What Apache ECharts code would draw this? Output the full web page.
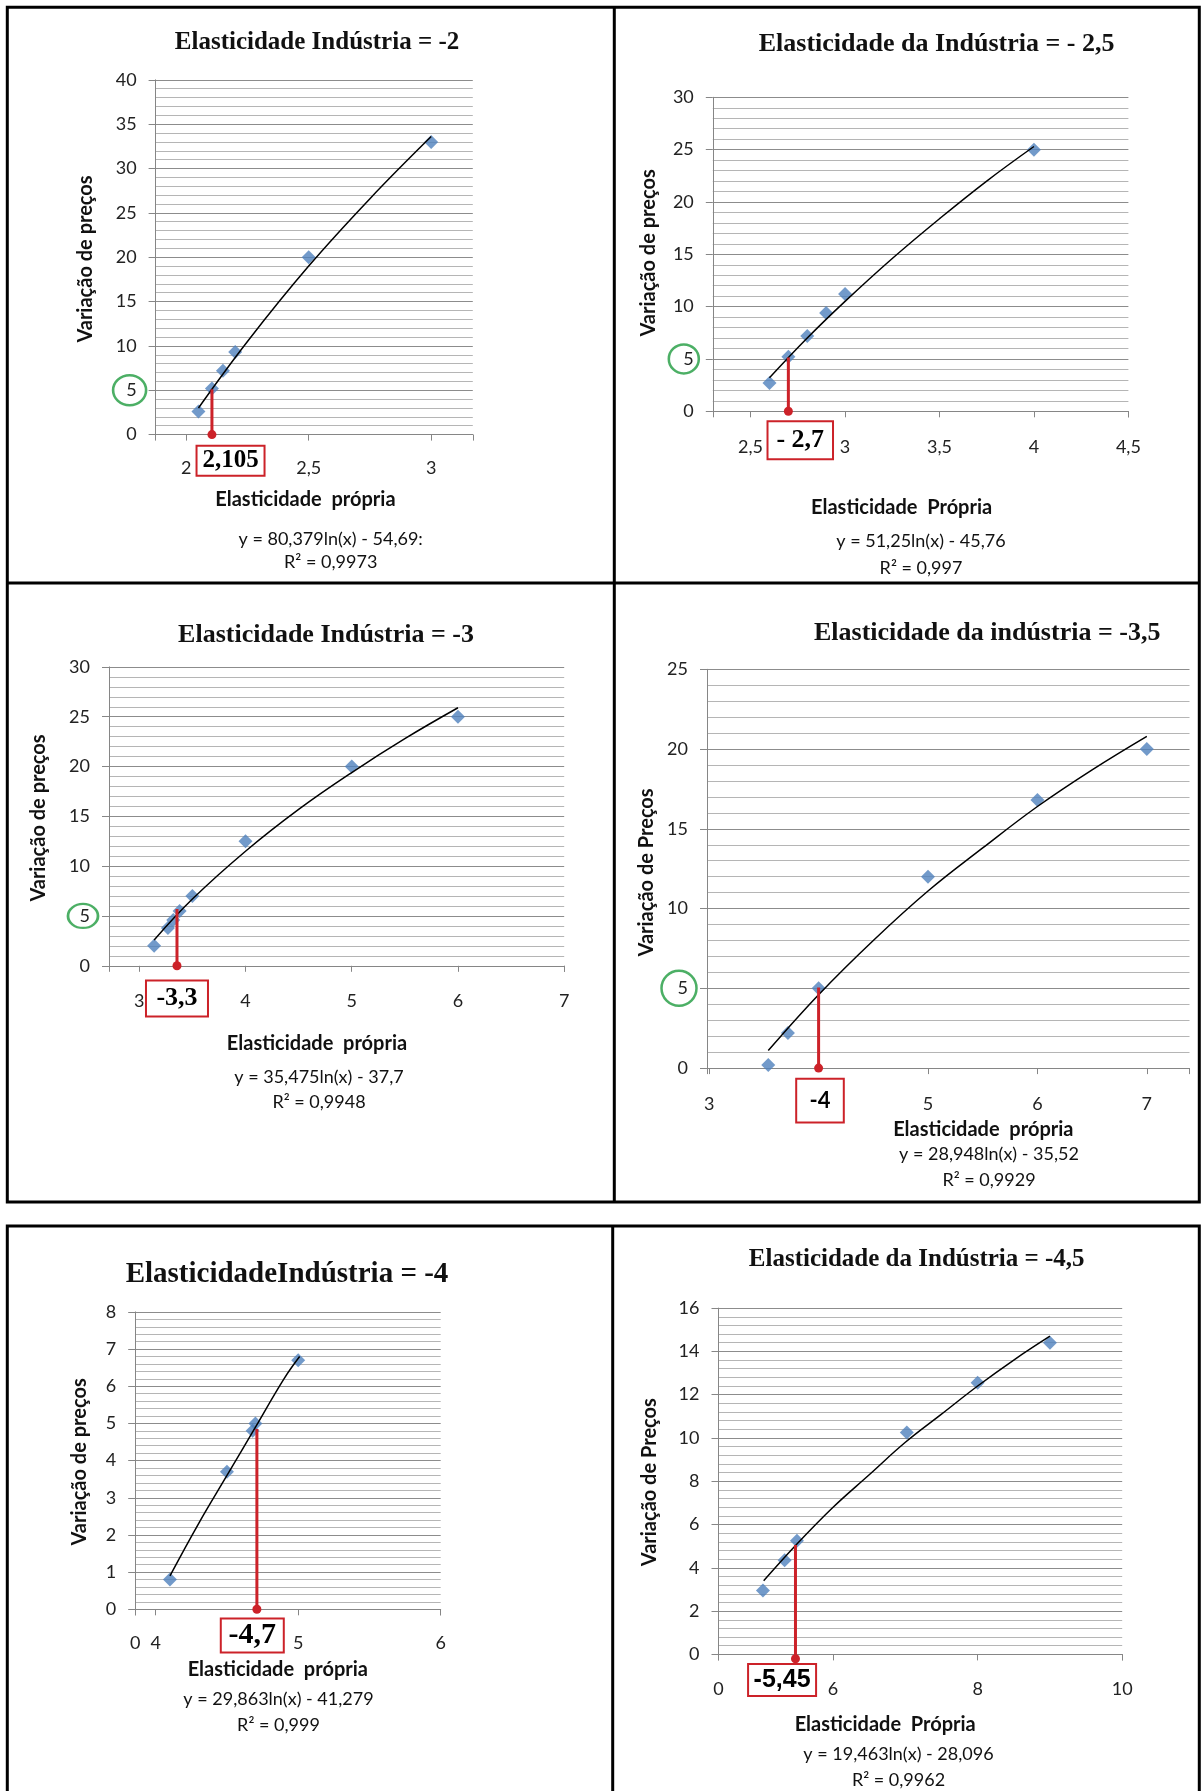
<!DOCTYPE html>
<html>
<head>
<meta charset="utf-8">
<title>Elasticidade</title>
<script src="https://cdn.jsdelivr.net/npm/echarts@6/dist/echarts.min.js"></script>
<style>
  html, body { margin: 0; padding: 0; background: #fff; }
  #chart { width: 1201px; height: 1791px; }
</style>
</head>
<body>
<div id="chart"></div>
<script>
// textos de cada painel
const titulos = [
  'Elasticidade Indústria = -2',
  'Elasticidade da Indústria = - 2,5',
  'Elasticidade Indústria = -3',
  'Elasticidade da indústria = -3,5',
  'ElasticidadeIndústria = -4',
  'Elasticidade da Indústria = -4,5'
]
const nomesY = ['Variação de preços', 'Variação de preços', 'Variação de preços', 'Variação de Preços', 'Variação de preços', 'Variação de Preços']
const nomesX = ['Elasticidade  própria', 'Elasticidade  Própria', 'Elasticidade  própria', 'Elasticidade  própria', 'Elasticidade  própria', 'Elasticidade  Própria']
const equacoes = [
  'y = 80,379ln(x) - 54,69:',
  'y = 51,25ln(x) - 45,76',
  'y = 35,475ln(x) - 37,7',
  'y = 28,948ln(x) - 35,52',
  'y = 29,863ln(x) - 41,279',
  'y = 19,463ln(x) - 28,096'
]
const r2 = ['R² = 0,9973', 'R² = 0,997', 'R² = 0,9948', 'R² = 0,9929', 'R² = 0,999', 'R² = 0,9962']

// pontos (elasticidade própria, variação de preços)
const elast1 = [2.05, 2.105, 2.15, 2.2, 2.5, 3]
const preco1 = [2.6, 5.2, 7.2, 9.3, 20, 33]
const elast2 = [2.6, 2.7, 2.8, 2.9, 3, 4]
const preco2 = [2.7, 5.2, 7.2, 9.4, 11.2, 25]
const elast3 = [3.14, 3.27, 3.32, 3.38, 3.5, 4, 5, 6]
const preco3 = [2, 3.8, 4.6, 5.5, 7, 12.5, 20, 25]
const elast4 = [3.54, 3.72, 4, 5, 6, 7]
const preco4 = [0.2, 2.2, 5, 12, 16.8, 20]
const elast5 = [4.1, 4.5, 4.68, 4.7, 5]
const preco5 = [0.8, 3.7, 4.8, 5, 6.7]
const elast6 = [5.03, 5.33, 5.5, 7.02, 8, 9]
const preco6 = [2.95, 4.35, 5.25, 10.25, 12.55, 14.4]

// linha de tendência
const tend1X = [2.05, 2.25, 2.5, 2.75, 3]
const tend1Y = [3, 10.5, 19, 26.6, 33.6]
const tend2X = [2.6, 2.8, 3, 3.25, 3.5, 3.75, 4]
const tend2Y = [3.2, 7, 10.5, 14.6, 18.4, 22, 25.3]
const tend3X = [3.14, 3.5, 4, 4.5, 5, 5.5, 6]
const tend3Y = [2.6, 6.7, 11.5, 15.7, 19.4, 22.8, 25.9]
const tend4X = [3.54, 4, 4.5, 5, 5.5, 6, 6.5, 7]
const tend4Y = [1.1, 4.6, 8, 11.1, 13.8, 16.4, 18.7, 20.8]
const tend5X = [4.1, 4.3, 4.5, 4.7, 4.9, 5.01]
const tend5Y = [0.9, 2.3, 3.6, 4.9, 6.2, 6.8]
const tend6X = [5.04, 5.5, 6, 6.5, 7, 7.5, 8, 8.5, 9]
const tend6Y = [3.4, 5.1, 6.8, 8.3, 9.8, 11.1, 12.4, 13.6, 14.7]

// marcação em vermelho (valor para variação de preços = 5)
const marca = [2.105, 2.7, 3.355, 4.0, 4.71, 5.48]
const marcaTopo = [5.1, 5.15, 5.7, 5.05, 4.85, 5.05]
const marcaBase = [0, 0, 0, 0, 0, -0.2]
const marcaTexto = ['2,105', '- 2,7', '-3,3', '-4', '-4,7', '-5,45']

// eixos
const xMin = [1.875, 2.3, 2.715, 2.98, 3.856, 4.415]
const xMax = [3.17, 4.5, 7, 7.39, 6, 10]
const yMax = [40, 30, 30, 25, 8, 16]
const yPasso = [5, 5, 5, 5, 1, 2]
const xTicks1 = [2, 2.5, 3]
const xRotulos1 = ['2', '2,5', '3']
const xTicks2 = [2.5, 3, 3.5, 4, 4.5]
const xRotulos2 = ['2,5', '3', '3,5', '4', '4,5']
const xTicks3 = [3, 4, 5, 6, 7]
const xRotulos3 = ['3', '4', '5', '6', '7']
const xTicks4 = [3, 5, 6, 7]
const xRotulos4 = ['3', '5', '6', '7']
const xTicks5 = [3.856, 4, 5, 6]
const xRotulos5 = ['0', '4', '5', '6']
const xTicks6 = [4.415, 6, 8, 10]
const xRotulos6 = ['0', '6', '8', '10']

const zip = (xs, ys) => xs.map((x, i) => [x, ys[i]])
const dados = [zip(elast1, preco1), zip(elast2, preco2), zip(elast3, preco3), zip(elast4, preco4), zip(elast5, preco5), zip(elast6, preco6)]
const tendencias = [zip(tend1X, tend1Y), zip(tend2X, tend2Y), zip(tend3X, tend3Y), zip(tend4X, tend4Y), zip(tend5X, tend5Y), zip(tend6X, tend6Y)]
const xTicks = [xTicks1, xTicks2, xTicks3, xTicks4, xTicks5, xTicks6]
const xRotulos = [xRotulos1, xRotulos2, xRotulos3, xRotulos4, xRotulos5, xRotulos6]

const SANS = 'Lato, "Liberation Sans", sans-serif'
const SERIF = '"Liberation Serif", "Times New Roman", serif'
const VERMELHO = '#cc2229'
const VERDE = '#1f9b3f'
const CINZA = '#868686'

// posições de cada painel (px); box.off = deslocamento da caixa vermelha a partir do ponto vermelho
const layout = [
  { grid: [155.6, 79.8, 317.2, 354.8], title: [317, 43, 25], yName: [85.6, 259], xName: [305.4, 500], eq: [330.7, 539, 562], xMargin: 25,
    box: { off: [18.6, 7.6], w: 66, h: 28, font: SERIF, size: 25 }, ring: { off: -26, size: [33, 30] } },
  { grid: [712.8, 97.3, 415.6, 314], title: [936.6, 44.7, 26], yName: [648.6, 252.9], xName: [901.6, 507.8], eq: [921, 540.9, 568.1], xMargin: 27,
    box: { off: [11.9, 6.5], w: 63.5, h: 36, font: SERIF, size: 26 }, ring: { off: -29, size: [30, 29] } },
  { grid: [109, 666.9, 455.2, 298.9], title: [326, 635, 26], yName: [38.9, 818], xName: [317, 1043.6], eq: [319, 1076.7, 1101.9], xMargin: 26,
    box: { off: [0, 11.1], w: 60, h: 34, font: SERIF, size: 26 }, ring: { off: -26, size: [30, 24] } },
  { grid: [707, 669.3, 482.5, 398.8], title: [987.2, 633.1, 26], yName: [646.7, 872.4], xName: [983.3, 1129.2], eq: [989, 1154.5, 1179.8], xMargin: 27,
    box: { off: [1.4, 7.2], w: 45.6, h: 41.6, font: SANS, size: 22 }, ring: { off: -28, size: [35, 35] } },
  { grid: [135.2, 1311.9, 305.5, 297.4], title: [287, 1274.8, 29], yName: [79.6, 1461.9], xName: [277.8, 1669.3], eq: [278.5, 1698.9, 1724.8], xMargin: 25,
    box: { off: [-4.6, 5.6], w: 61, h: 32, font: SERIF, size: 30 }, ring: null },
  { grid: [718.5, 1308.1, 403.7, 346.3], title: [916.7, 1260, 25], yName: [650, 1482.2], xName: [885.2, 1724.8], eq: [898.5, 1754.4, 1780.4], xMargin: 26,
    box: { off: [-13.4, 1.8], w: 66, h: 30, font: '"Liberation Sans", Arial, sans-serif', size: 25 }, ring: null }
]

const texto = (x, y, text, font, size, weight, rotation) => ({
  type: 'text', x, y, rotation: rotation || 0, silent: true,
  style: {
    text, fontFamily: font, fontSize: size, fontWeight: weight || 'normal', fill: '#111',
    align: 'center', verticalAlign: 'middle', textAlign: 'center', textVerticalAlign: 'middle'
  }
})

const grid = []
const xAxis = []
const yAxis = []
const series = []
const graphic = [
  // molduras
  { type: 'rect', silent: true, shape: { x: 7.3, y: 7.3, width: 1192, height: 1194.7 }, style: { fill: 'none', stroke: '#000', lineWidth: 3 } },
  { type: 'line', silent: true, shape: { x1: 7.3, y1: 583, x2: 1199.3, y2: 583 }, style: { stroke: '#000', lineWidth: 3 } },
  { type: 'line', silent: true, shape: { x1: 614.3, y1: 7.3, x2: 614.3, y2: 1202 }, style: { stroke: '#000', lineWidth: 3 } },
  { type: 'rect', silent: true, shape: { x: 7.3, y: 1226, width: 1192, height: 600 }, style: { fill: 'none', stroke: '#000', lineWidth: 3 } },
  { type: 'line', silent: true, shape: { x1: 612.7, y1: 1226, x2: 612.7, y2: 1800 }, style: { stroke: '#000', lineWidth: 3 } }
]

layout.forEach((p, i) => {
  grid.push({ left: p.grid[0], top: p.grid[1], width: p.grid[2], height: p.grid[3], containLabel: false })

  xAxis.push({
    type: 'value', gridIndex: i, min: xMin[i], max: xMax[i],
    axisLine: { show: true, onZero: false, lineStyle: { color: CINZA, width: 1 } },
    axisTick: { show: true, customValues: [xMin[i]].concat(xTicks[i], [xMax[i]]), length: 6, lineStyle: { color: CINZA } },
    axisLabel: {
      customValues: xTicks[i],
      formatter: v => xRotulos[i][xTicks[i].indexOf(v)],
      margin: p.xMargin, fontSize: 18, fontFamily: SANS, color: '#222'
    },
    splitLine: { show: false }
  })

  yAxis.push({
    type: 'value', gridIndex: i, min: 0, max: yMax[i], interval: yPasso[i],
    axisLine: { show: true, lineStyle: { color: CINZA, width: 1 } },
    axisTick: { show: true, length: 7, lineStyle: { color: CINZA } },
    axisLabel: { margin: 19, fontSize: 18, fontFamily: SANS, color: '#222' },
    splitLine: { show: true, lineStyle: { color: '#8c8c8c', width: 1 } },
    minorTick: { show: false, splitNumber: 5 },
    minorSplitLine: { show: true, lineStyle: { color: '#b5b5b5', width: 1 } }
  })

  series.push({
    type: 'scatter', xAxisIndex: i, yAxisIndex: i, data: dados[i], silent: true,
    symbol: 'diamond', symbolSize: 14, itemStyle: { color: '#4f81bd' }, z: 2
  })

  series.push({
    type: 'line', xAxisIndex: i, yAxisIndex: i, data: tendencias[i], silent: true,
    smooth: 0.4, symbol: 'none', lineStyle: { color: '#000', width: 1.5 }, z: 3
  })

  // linha vermelha até o eixo, com o valor lido numa caixa
  const b = p.box
  series.push({
    type: 'line', xAxisIndex: i, yAxisIndex: i, silent: true, clip: false,
    data: [
      { value: [marca[i], marcaTopo[i]], symbol: 'none' },
      {
        value: [marca[i], marcaBase[i]],
        label: {
          show: true, position: 'bottom', distance: 0, offset: b.off, formatter: marcaTexto[i],
          width: b.w, height: b.h, lineHeight: b.h, align: 'center', verticalAlign: 'top',
          fontFamily: b.font, fontWeight: 'bold', fontSize: b.size, color: '#000',
          textBorderWidth: 0, borderColor: VERMELHO, borderWidth: 2, backgroundColor: '#fff', padding: 0
        }
      }
    ],
    symbol: 'circle', symbolSize: 9, showSymbol: true,
    lineStyle: { color: VERMELHO, width: 3 }, itemStyle: { color: VERMELHO }, z: 4
  })

  if (p.ring) {
    series.push({
      type: 'scatter', xAxisIndex: i, yAxisIndex: i, silent: true, clip: false,
      data: [[xMin[i], 5]], symbol: 'circle', symbolSize: p.ring.size, symbolOffset: [p.ring.off, 0],
      itemStyle: { color: 'rgba(0,0,0,0)', borderColor: VERDE, borderWidth: 2.5 }, z: 5
    })
  }

  graphic.push(texto(p.title[0], p.title[1], titulos[i], SERIF, p.title[2], 'bold'))
  graphic.push(texto(p.yName[0], p.yName[1], nomesY[i], SANS, 20, 'bold', Math.PI / 2))
  graphic.push(texto(p.xName[0], p.xName[1], nomesX[i], SANS, 20, 'bold'))
  graphic.push(texto(p.eq[0], p.eq[1], equacoes[i], SANS, 18))
  graphic.push(texto(p.eq[0], p.eq[2], r2[i], SANS, 18))
})

const chart = echarts.init(document.getElementById('chart'), null, { renderer: 'canvas' })
chart.setOption({
  animation: false,
  backgroundColor: '#fff',
  grid,
  xAxis,
  yAxis,
  series,
  graphic
})
</script>
</body>
</html>
